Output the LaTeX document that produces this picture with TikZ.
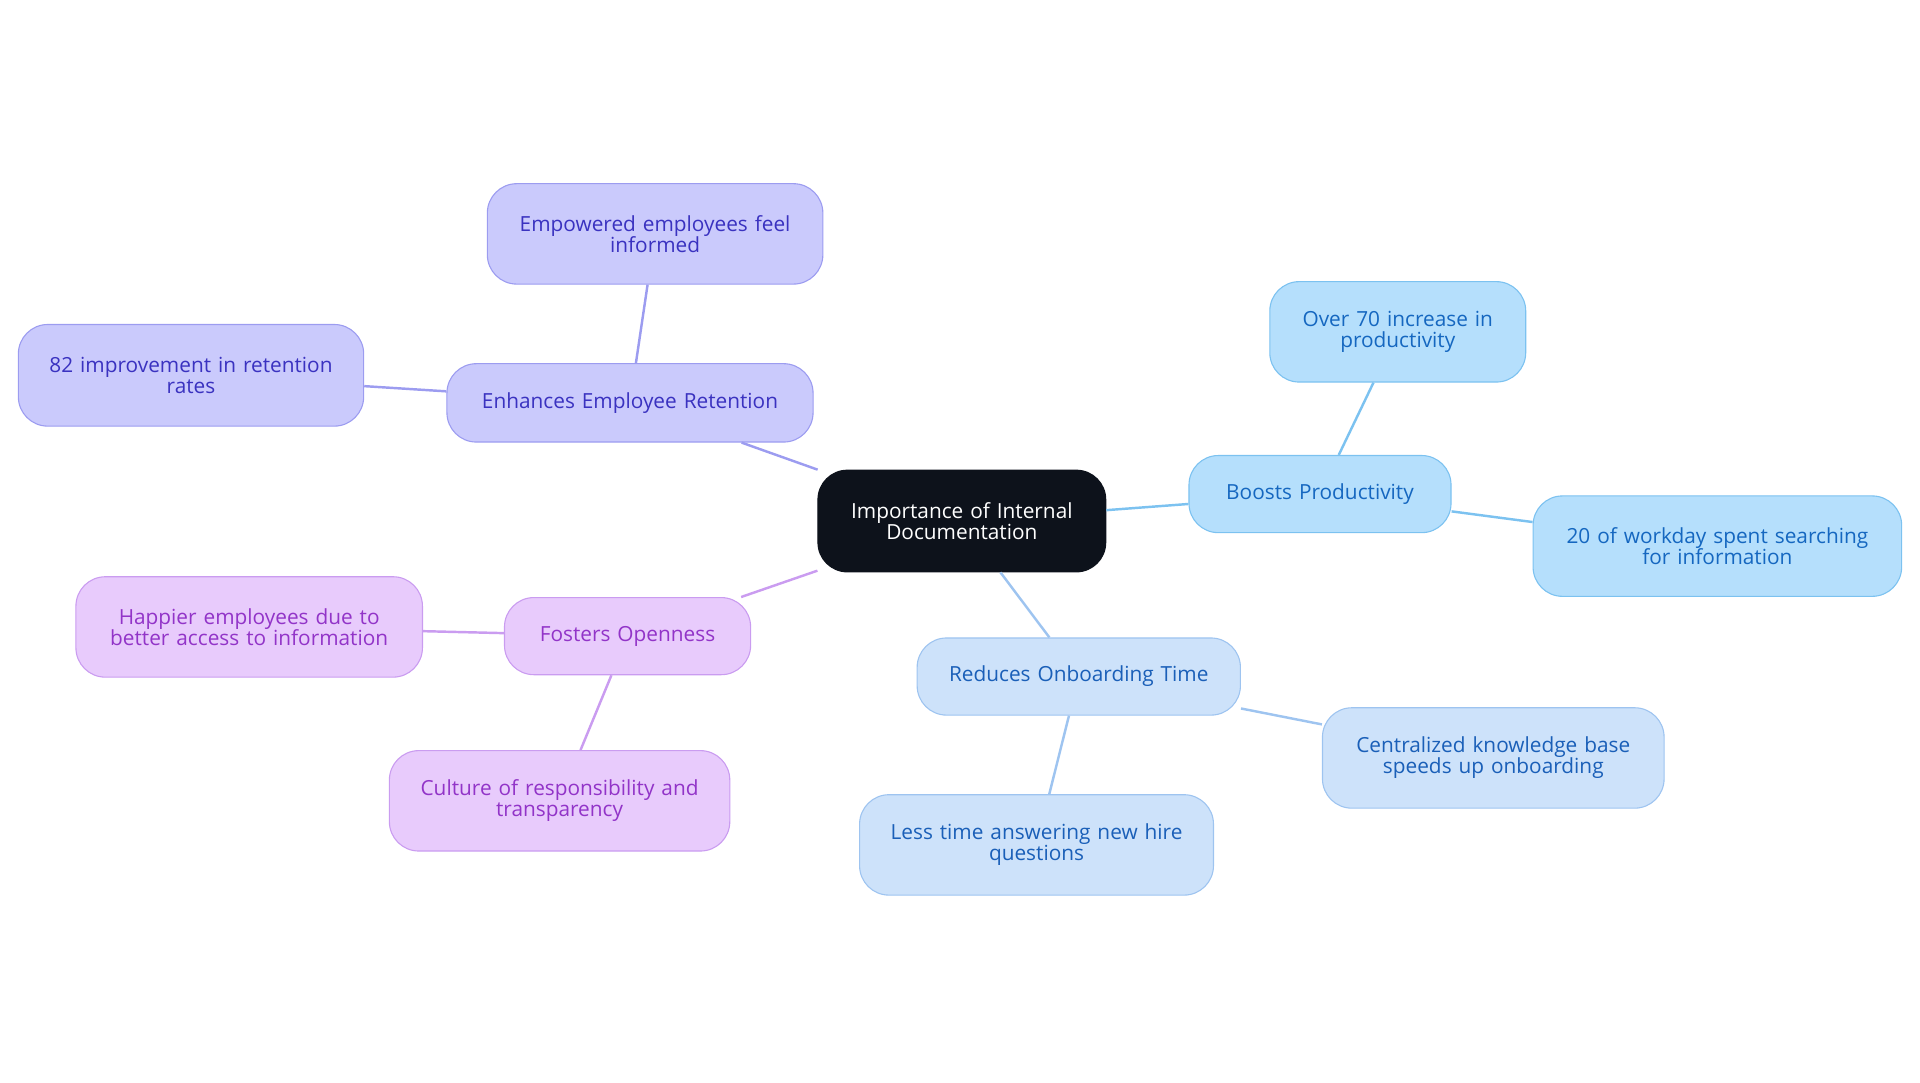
\documentclass[tikz,border=0pt]{standalone}
\usepackage{fontspec}
\setmainfont{Open Sans}
\definecolor{cblk}{HTML}{0D121B}
\definecolor{bfill}{HTML}{B5DFFC}\definecolor{bdraw}{HTML}{7CC2F0}\definecolor{btext}{HTML}{1567C0}
\definecolor{rfill}{HTML}{CDE2FA}\definecolor{rdraw}{HTML}{9EC4F0}\definecolor{rtext}{HTML}{1A5FB8}
\definecolor{efill}{HTML}{CACAFC}\definecolor{edraw}{HTML}{9C9CF0}\definecolor{etext}{HTML}{3A32C0}
\definecolor{ofill}{HTML}{E8CBFC}\definecolor{odraw}{HTML}{CA9CF0}\definecolor{otext}{HTML}{9234C8}
\begin{document}
\begin{tikzpicture}[x=1pt,y=-1pt,
 box/.style={rounded corners=24pt,draw,line width=0.9pt,align=center,font=\fontsize{17}{19}\selectfont,inner sep=0pt},
 B/.style={box,fill=bfill,draw=bdraw,text=btext},
 R/.style={box,fill=rfill,draw=rdraw,text=rtext},
 E/.style={box,fill=efill,draw=edraw,text=etext},
 O/.style={box,fill=ofill,draw=odraw,text=otext},
 ln/.style={line width=2pt}]
\useasboundingbox (0,0) rectangle (1568,884);
\newcommand{\bx}[6]{\node[#1,minimum width=#4pt,minimum height=#5pt,text width=#4pt-30pt] (#6) at (#2,#3) {};}
\node[box,fill=cblk,draw=cblk,text=white,minimum width=235pt,minimum height=83pt,text width=205pt] (c) at (785.5,425.5) {Importance of Internal\\[-2pt]Documentation};
\node[B,minimum width=214pt,minimum height=63pt,text width=190pt] (bp) at (1078,403.5) {Boosts Productivity};
\node[B,minimum width=209pt,minimum height=82pt,text width=185pt] (b1) at (1141.5,271) {Over 70 increase in\\[-2pt]productivity};
\node[B,minimum width=301pt,minimum height=82pt,text width=280pt] (b2) at (1402.5,446) {20 of workday spent searching\\[-2pt]for information};
\node[R,minimum width=264pt,minimum height=63pt,text width=240pt] (ro) at (881,552.5) {Reduces Onboarding Time};
\node[R,minimum width=279pt,minimum height=82pt,text width=255pt] (r1) at (1219.5,619) {Centralized knowledge base\\[-2pt]speeds up onboarding};
\node[R,minimum width=289pt,minimum height=82pt,text width=265pt] (r2) at (846.5,690) {Less time answering new hire\\[-2pt]questions};
\node[E,minimum width=299pt,minimum height=64pt,text width=275pt] (er) at (514.5,329) {Enhances Employee Retention};
\node[E,minimum width=274pt,minimum height=82pt,text width=250pt] (e1) at (535,191) {Empowered employees feel\\[-2pt]informed};
\node[E,minimum width=282pt,minimum height=83pt,text width=258pt] (e2) at (156,306.5) {82 improvement in retention\\[-2pt]rates};
\node[O,minimum width=201pt,minimum height=63pt,text width=180pt] (fo) at (512.5,519.5) {Fosters Openness};
\node[O,minimum width=283pt,minimum height=82pt,text width=260pt] (o1) at (203.5,512) {Happier employees due to\\[-2pt]better access to information};
\node[O,minimum width=278pt,minimum height=82pt,text width=255pt] (o2) at (457,654) {Culture of responsibility and\\[-2pt]transparency};
\begin{scope}[on background layer/.try]
\end{scope}
\draw[ln,bdraw] (c) -- (bp); \draw[ln,bdraw] (bp) -- (b1); \draw[ln,bdraw] (bp) -- (b2);
\draw[ln,rdraw] (c) -- (ro); \draw[ln,rdraw] (ro) -- (r1); \draw[ln,rdraw] (ro) -- (r2);
\draw[ln,edraw] (c) -- (er); \draw[ln,edraw] (er) -- (e1); \draw[ln,edraw] (er) -- (e2);
\draw[ln,odraw] (c) -- (fo); \draw[ln,odraw] (fo) -- (o1); \draw[ln,odraw] (fo) -- (o2);
\end{tikzpicture}
\end{document}
